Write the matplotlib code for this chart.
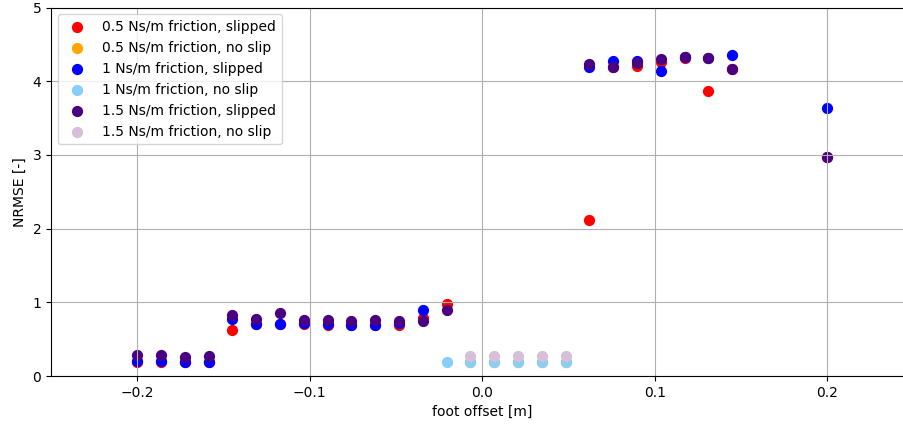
import numpy as np
import matplotlib
matplotlib.use("Agg")
import matplotlib.pyplot as plt

nan = np.nan

# foot offsets [m]
offsets = [-0.2, -0.18621, -0.17241, -0.15862, -0.14483, -0.13103, -0.11724,
           -0.10345, -0.08966, -0.07586, -0.06207, -0.04828, -0.03448, -0.02069,
           -0.00690, 0.00690, 0.02069, 0.03448, 0.04828, 0.06207, 0.07586,
           0.08966, 0.10345, 0.11724, 0.13103, 0.14483, 0.2]

# NRMSE per friction setting (nan = no run in that group)
f05_slipped = [0.19, 0.19, 0.19, 0.19, 0.62, 0.71, 0.71, 0.70, 0.69, 0.69, 0.69, 0.69, 0.79, 0.98,
               nan, nan, nan, nan, nan,
               2.12, 4.19, 4.20, 4.26, 4.31, 3.87, 4.16, 2.97]
f05_noslip = [nan] * 14 + [0.19, 0.19, 0.19, 0.19, 0.19] + [nan] * 8
f1_slipped = [0.20, 0.20, 0.19, 0.19, 0.77, 0.71, 0.71, 0.72, 0.71, 0.69, 0.69, 0.72, 0.89, nan,
              nan, nan, nan, nan, nan,
              4.19, 4.28, 4.27, 4.14, 4.33, 4.32, 4.36, 3.63]
f1_noslip = [nan] * 13 + [0.19, 0.19, 0.19, 0.19, 0.19, 0.19] + [nan] * 8
f15_slipped = [0.28, 0.28, 0.26, 0.27, 0.83, 0.77, 0.85, 0.76, 0.76, 0.75, 0.76, 0.75, 0.75, 0.90,
               nan, nan, nan, nan, nan,
               4.23, 4.19, 4.25, 4.30, 4.33, 4.32, 4.16, 2.97]
f15_noslip = [nan] * 14 + [0.27, 0.27, 0.27, 0.27, 0.27] + [nan] * 8

series = [
    ("0.5 Ns/m friction, slipped", f05_slipped, "red"),
    ("0.5 Ns/m friction, no slip", f05_noslip, "orange"),
    ("1 Ns/m friction, slipped", f1_slipped, "blue"),
    ("1 Ns/m friction, no slip", f1_noslip, "lightskyblue"),
    ("1.5 Ns/m friction, slipped", f15_slipped, "indigo"),
    ("1.5 Ns/m friction, no slip", f15_noslip, "thistle"),
]

dpi = 100
fig = plt.figure(figsize=(904 / dpi, 426 / dpi), dpi=dpi)
ax = fig.add_axes([51 / 904, 50 / 426, 862.6 / 904, 368.5 / 426])

for label, vals, color in series:
    ax.scatter(offsets, vals, s=50, color=color, label=label)

ax.set_xlim(-0.25, 0.25)
ax.set_ylim(0, 5)
ax.set_xticks([-0.2, -0.1, 0.0, 0.1, 0.2])
ax.set_xlabel("foot offset [m]")
ax.set_ylabel("NRMSE [-]")
ax.grid(True)
ax.legend(loc="upper left")

fig.savefig("out.png", dpi=dpi)
